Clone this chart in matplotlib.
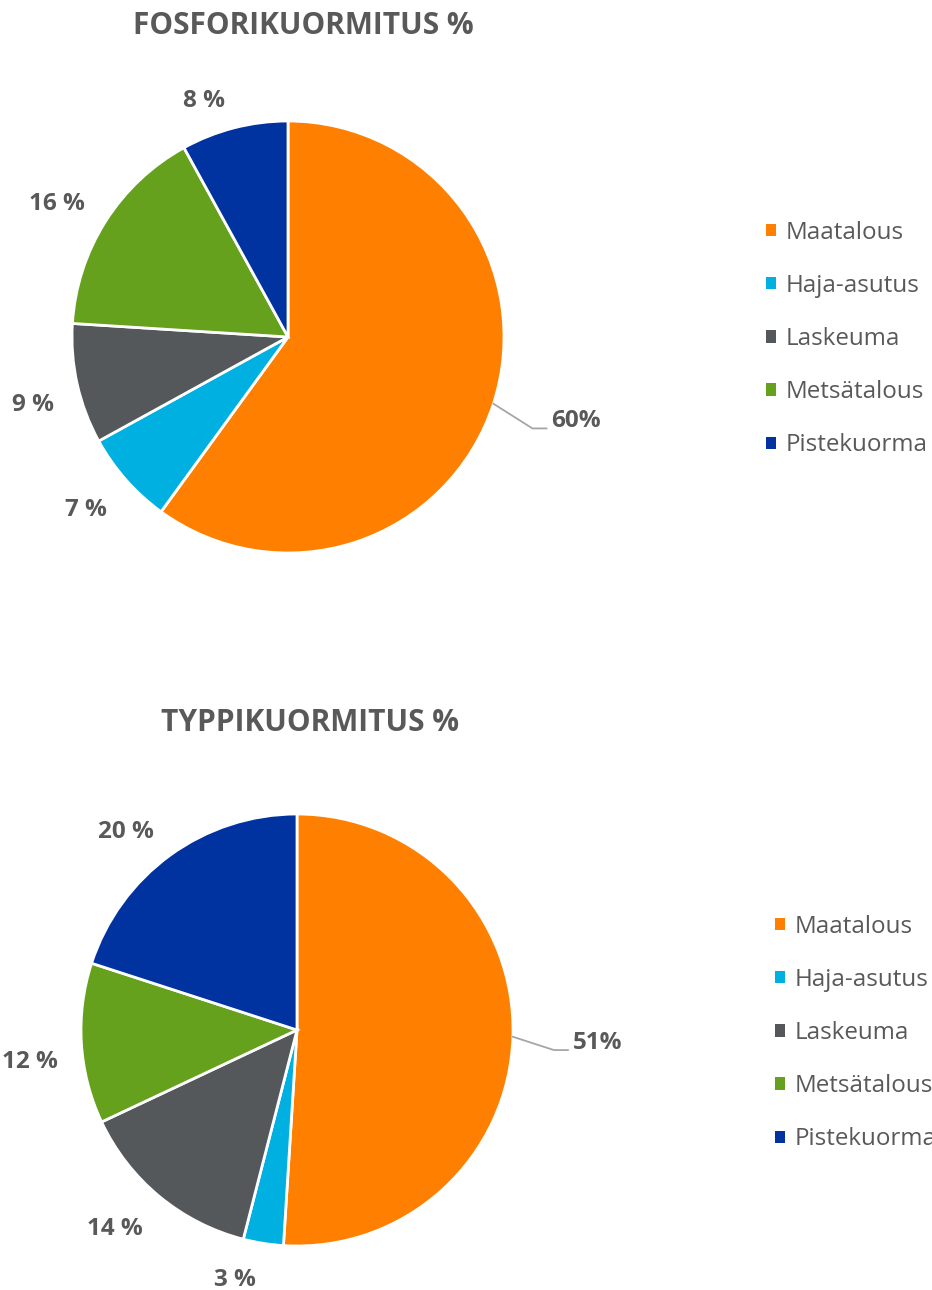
import numpy as np
import matplotlib
matplotlib.use("Agg")
import matplotlib.pyplot as plt
from matplotlib.patches import Patch

# data
categories = ["Maatalous", "Haja-asutus", "Laskeuma", "Metsätalous", "Pistekuorma"]
fosfori = [60, 7, 9, 16, 8]
typpi = [51, 3, 14, 12, 20]
fosfori_labels = ["60%", "7 %", "9 %", "16 %", "8 %"]
typpi_labels = ["51%", "3 %", "14 %", "12 %", "20 %"]
titles = ["FOSFORIKUORMITUS %", "TYPPIKUORMITUS %"]

colors = ["#FF8000", "#00B0E0", "#55585B", "#66A11E", "#0033A0"]
text_gray = "#595959"
W, H = 932, 1290
R = 216
GAP = 20

plt.rcParams["font.family"] = ["Open Sans", "DejaVu Sans"]

fig = plt.figure(figsize=(W / 100, H / 100), dpi=100)
ax = fig.add_axes([0, 0, 1, 1])
renderer = fig.canvas.get_renderer()


def draw_pie(values, labels, title, center, title_pos, legend_pos):
    cx, cy = center[0], H - center[1]
    wedges, _ = ax.pie(values, colors=colors, startangle=90, counterclock=False,
                       center=(cx, cy), radius=R,
                       wedgeprops=dict(edgecolor="white", linewidth=2))
    big = int(np.argmax(values))
    for i, (w, lab) in enumerate(zip(wedges, labels)):
        mid = np.deg2rad((w.theta1 + w.theta2) / 2)
        c, s = np.cos(mid), np.sin(mid)
        if i == big:
            x0, y0 = cx + R * c, cy + R * s
            ex, ey = cx + 1.19 * R * c, cy + 1.19 * R * s - 12
            ax.plot([x0, ex, ex + 14], [y0, ey, ey], color="#A6A6A6", lw=1.3)
            ax.text(ex + 19, ey + 7, lab, ha="left", va="center", fontsize=17.5,
                    fontweight="bold", color=text_gray)
        else:
            # nearest corner of the label box sits on the slice's mid ray
            t = ax.text(cx, cy, lab, ha="center", va="center", fontsize=17.5,
                        fontweight="bold", color=text_gray)
            bb = t.get_window_extent(renderer)
            px, py = cx + (R + GAP) * c, cy + (R + GAP) * s
            t.set_position((px + np.sign(c) * bb.width / 2 - 4,
                            py + np.sign(s) * bb.height / 2 - 5))
    ax.text(title_pos[0], H - title_pos[1], title, ha="center", va="center",
            fontsize=21.5, fontweight="bold", color=text_gray)
    handles = [Patch(facecolor=c, edgecolor="none") for c in colors]
    leg = ax.legend(handles, categories, loc="center left",
                    bbox_to_anchor=(legend_pos[0], H - legend_pos[1]),
                    bbox_transform=ax.transData,
                    frameon=False, fontsize=17.4, labelcolor=text_gray,
                    handlelength=0.42, handleheight=0.42, handletextpad=0.4,
                    labelspacing=1.21, borderpad=0, borderaxespad=0)
    return leg


leg1 = draw_pie(fosfori, fosfori_labels, titles[0], (288, 337), (303, 26), (766, 339))
ax.add_artist(leg1)
draw_pie(typpi, typpi_labels, titles[1], (297, 1030), (310, 723), (775, 1033))

ax.set_xlim(0, W)
ax.set_ylim(0, H)
ax.set_aspect("equal")
ax.axis("off")

fig.savefig("out.png", dpi=100, facecolor="white")
